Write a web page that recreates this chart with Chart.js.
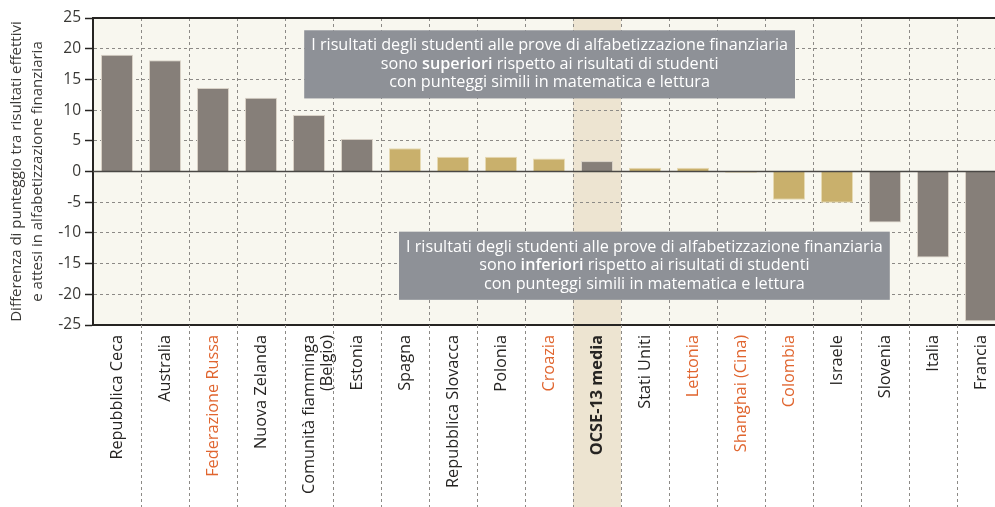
<!DOCTYPE html>
<html lang="it">
<head>
<meta charset="utf-8">
<title>Alfabetizzazione finanziaria - differenza di punteggio</title>
<script src="https://cdn.jsdelivr.net/npm/chart.js@4.4.1/dist/chart.umd.min.js"></script>
<style>
    html, body {
        margin: 0;
        padding: 0;
        background: #ffffff;
        overflow: hidden;
    }
    #chart {
        display: block;
    }
</style>
</head>
<body>
<canvas id="chart" width="1010" height="507"></canvas>
<script>
// Paesi / economie, in ordine di differenza decrescente
const categories = [
    'Repubblica Ceca', 'Australia', 'Federazione Russa', 'Nuova Zelanda',
    ['Comunità fiamminga', '(Belgio)'], 'Estonia', 'Spagna', 'Repubblica Slovacca',
    'Polonia', 'Croazia', 'OCSE-13 media', 'Stati Uniti', 'Lettonia',
    'Shanghai (Cina)', 'Colombia', 'Israele', 'Slovenia', 'Italia', 'Francia'
];

// Differenza di punteggio tra risultati effettivi e attesi
const values = [
    19.0, 18.1, 13.6, 12.0, 9.2, 5.3, 3.8, 2.4,
    2.4, 2.1, 1.7, 0.6, 0.6, -0.2, -4.6, -5.1, -8.3, -14.0, -24.4
];

// true = differenza statisticamente significativa (barra scura)
const significant = [
    true, true, true, true, true, true, false, false,
    false, false, true, false, false, false, false, false, true, true, true
];

// Paesi e economie partner (etichetta arancione)
const partner = [
    false, false, true, false, false, false, false, false,
    false, true, false, false, true, true, true, false, false, false, false
];

const averageLabel = 'OCSE-13 media';

const yTicks = [-25, -20, -15, -10, -5, 0, 5, 10, 15, 20, 25];

const yTitle = [
    'Differenza di punteggio tra risultati effettivi',
    'e attesi in alfabetizzazione finanziaria'
];

const noteAbove = [
    [['I risultati degli studenti alle prove di alfabetizzazione finanziaria', false]],
    [['sono ', false], ['superiori', true], [' rispetto ai risultati di studenti', false]],
    [['con punteggi simili in matematica e lettura', false]]
];

const noteBelow = [
    [['I risultati degli studenti alle prove di alfabetizzazione finanziaria', false]],
    [['sono ', false], ['inferiori', true], [' rispetto ai risultati di studenti', false]],
    [['con punteggi simili in matematica e lettura', false]]
];

// Styling
const FONT = '"Open Sans", Lato, sans-serif';
const DARK = '#262422';
const ORANGE = '#e0652f';
const BAR_DARK = '#867f79';
const BAR_GOLD = '#c9b06c';
const GRID = '#8c8a86';
const PLOT_BG = '#f8f7ef';
const BAND = '#ede4d1';
const NOTE_BG = '#8e9197';

// Plot background + highlight column for the OECD average
const backdropPlugin = {
    id: 'backdrop',
    beforeDraw(chart) {
        const { ctx, chartArea: a, scales: { x } } = chart;
        ctx.save();
        ctx.fillStyle = PLOT_BG;
        ctx.fillRect(a.left, a.top, a.right - a.left, a.bottom - a.top);

        const i = categories.indexOf(averageLabel);
        const left = x.getPixelForValue(i - 0.5);
        const right = x.getPixelForValue(i + 0.5);
        ctx.fillStyle = BAND;
        ctx.fillRect(left, a.top, right - left, chart.height - a.top);
        ctx.restore();
    }
};

// Dashed category separators continue down through the label area
const separatorPlugin = {
    id: 'separators',
    beforeDatasetsDraw(chart) {
        const { ctx, chartArea: a, scales: { x } } = chart;
        ctx.save();
        ctx.strokeStyle = GRID;
        ctx.lineWidth = 1;
        ctx.setLineDash([3, 3]);
        for (let i = 1; i < categories.length; i++) {
            const px = Math.round(x.getPixelForValue(i - 0.5)) + 0.5;
            ctx.beginPath();
            ctx.moveTo(px, a.bottom);
            ctx.lineTo(px, chart.height);
            ctx.stroke();
        }
        ctx.restore();
    }
};

// Solid top frame and zero line
const framePlugin = {
    id: 'frame',
    afterDatasetsDraw(chart) {
        const { ctx, chartArea: a, scales: { y } } = chart;
        ctx.save();
        ctx.strokeStyle = DARK;
        ctx.lineWidth = 2;
        ctx.beginPath();
        ctx.moveTo(a.left, a.top);
        ctx.lineTo(a.right, a.top);
        ctx.stroke();

        const y0 = y.getPixelForValue(0);
        ctx.strokeStyle = '#4a4845';
        ctx.lineWidth = 1.5;
        ctx.beginPath();
        ctx.moveTo(a.left, y0);
        ctx.lineTo(a.right, y0);
        ctx.stroke();
        ctx.restore();
    }
};

// Grey boxes with the explanatory notes
function drawRichLine(ctx, parts, cx, cy, size) {
    let width = 0;
    parts.forEach(([text, bold]) => {
        ctx.font = `${bold ? '600 ' : ''}${size}px ${FONT}`;
        width += ctx.measureText(text).width;
    });
    let px = cx - width / 2;
    parts.forEach(([text, bold]) => {
        ctx.font = `${bold ? '600 ' : ''}${size}px ${FONT}`;
        ctx.fillText(text, px, cy);
        px += ctx.measureText(text).width;
    });
}

const notesPlugin = {
    id: 'notes',
    afterDatasetsDraw(chart, args, opts) {
        const { ctx, scales: { x, y } } = chart;
        ctx.save();
        opts.boxes.forEach(box => {
            const left = x.getPixelForValue(box.x0);
            const right = x.getPixelForValue(box.x1);
            const top = y.getPixelForValue(box.y0);
            const bottom = y.getPixelForValue(box.y1);
            ctx.fillStyle = NOTE_BG;
            ctx.fillRect(left, top, right - left, bottom - top);

            ctx.fillStyle = '#ffffff';
            ctx.textBaseline = 'middle';
            ctx.textAlign = 'left';
            const cx = (left + right) / 2;
            const cy = (top + bottom) / 2;
            const n = box.lines.length;
            box.lines.forEach((parts, k) => {
                drawRichLine(ctx, parts, cx, cy + (k - (n - 1) / 2) * opts.lineHeight, opts.fontSize);
            });
        });
        ctx.restore();
    }
};

const ctx = document.getElementById('chart');

new Chart(ctx, {
    type: 'bar',
    data: {
        labels: categories,
        datasets: [{
            data: values,
            backgroundColor: significant.map(s => s ? BAR_DARK : BAR_GOLD),
            borderColor: significant.map(s => s ? '#d9d2c7' : '#e6dab4'),
            borderWidth: 1,
            barPercentage: 0.667,
            categoryPercentage: 1.0
        }]
    },
    options: {
        responsive: false,
        animation: false,
        devicePixelRatio: 1,
        layout: {
            padding: { top: 18, right: 5, left: 0, bottom: 0 }
        },
        plugins: {
            legend: { display: false },
            tooltip: { enabled: false },
            notes: {
                fontSize: 16.2,
                lineHeight: 18.5,
                boxes: [
                    { x0: 3.9, x1: 14.125, y0: 23.0, y1: 11.9, lines: noteAbove },
                    { x0: 5.875, x1: 16.1, y0: -9.8, y1: -20.9, lines: noteBelow }
                ]
            }
        },
        scales: {
            x: {
                grid: {
                    color: GRID,
                    borderDash: [3, 3],
                    drawTicks: false,
                    offset: true
                },
                border: {
                    display: true,
                    color: DARK,
                    width: 2,
                    dash: [3, 3]
                },
                ticks: {
                    autoSkip: false,
                    maxRotation: 90,
                    minRotation: 90,
                    padding: 10,
                    color: (c) => partner[c.index] ? ORANGE : DARK,
                    font: (c) => ({
                        family: FONT,
                        size: 16.3,
                        weight: categories[c.index] === averageLabel ? 'bold' : 'normal',
                        lineHeight: 1.15
                    })
                },
                afterFit(scale) {
                    scale.height = 182;
                }
            },
            y: {
                min: -25,
                max: 25,
                afterBuildTicks(scale) {
                    scale.ticks = yTicks.map(v => ({ value: v }));
                },
                grid: {
                    color: (c) => (c.tick && (c.tick.value === 0 || c.tick.value === 25 || c.tick.value === -25)) ? 'rgba(0,0,0,0)' : GRID,
                    borderDash: [3, 3],
                    tickColor: DARK,
                    tickLength: 8,
                    tickBorderDash: [],
                    tickWidth: 1.5
                },
                border: {
                    display: true,
                    color: DARK,
                    width: 2,
                    dash: [3, 3]
                },
                ticks: {
                    padding: 4,
                    color: '#3a3936',
                    font: { family: FONT, size: 15.5 }
                },
                title: {
                    display: true,
                    text: yTitle,
                    color: '#3a3936',
                    font: { family: FONT, size: 15, lineHeight: 1.4 },
                    padding: { top: 6, bottom: 0 }
                },
                afterFit(scale) {
                    scale.width = 93;
                }
            }
        }
    },
    plugins: [backdropPlugin, separatorPlugin, framePlugin, notesPlugin]
});
</script>
</body>
</html>
